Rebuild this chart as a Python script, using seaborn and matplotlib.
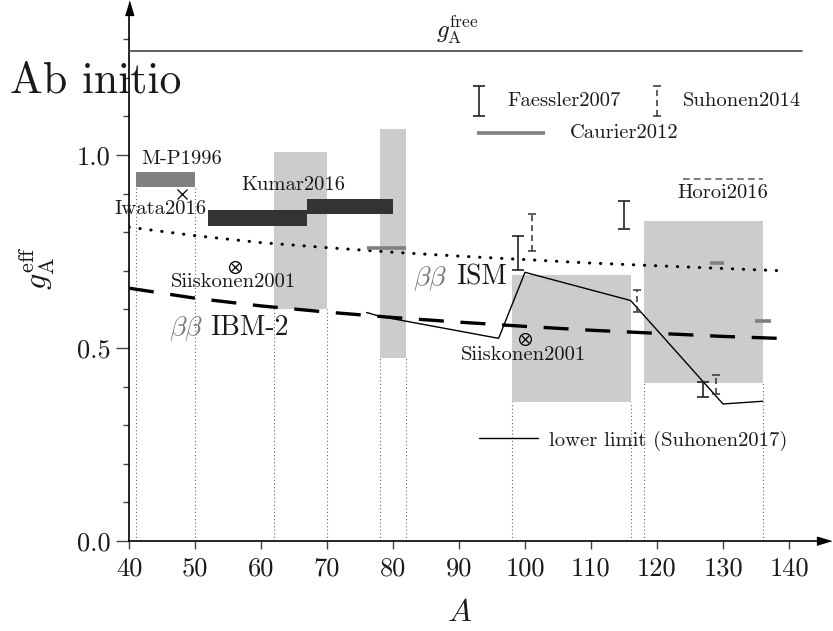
import numpy as np
import pandas as pd
import matplotlib
matplotlib.use("Agg")
import matplotlib.pyplot as plt
from matplotlib.ticker import MultipleLocator
import seaborn as sns

# ---------------- data ----------------
x_ticks = [40, 50, 60, 70, 80, 90, 100, 110, 120, 130, 140]
y_ticks = [0.0, 0.5, 1.0]
y_tick_labels = ["0.0", "0.5", "1.0"]

gA_free = 1.27
free_A = [40, 142]

ism_A = [40, 50, 60, 70, 80, 90, 100, 110, 120, 130, 139]
ism_g = [0.813, 0.791, 0.773, 0.760, 0.748, 0.738, 0.729, 0.720, 0.713, 0.706, 0.700]

ibm_A = [40, 50, 60, 70, 80, 90, 100, 110, 120, 130, 140]
ibm_g = [0.655, 0.629, 0.609, 0.593, 0.579, 0.567, 0.556, 0.546, 0.538, 0.530, 0.524]

lower_A = [76, 78, 96, 100, 116, 130, 136]
lower_g = [0.592, 0.582, 0.525, 0.696, 0.623, 0.355, 0.362]

box_A_lo = [62, 78, 98, 118]
box_A_hi = [70, 82, 116, 136]
box_g_lo = [0.600, 0.473, 0.361, 0.410]
box_g_hi = [1.007, 1.067, 0.689, 0.829]

mp_A_lo, mp_A_hi = [41], [50]
mp_g_lo, mp_g_hi = [0.918], [0.955]

kumar_A_lo = [52, 67]
kumar_A_hi = [67, 80]
kumar_g_lo = [0.817, 0.848]
kumar_g_hi = [0.857, 0.885]

caurier_A_lo = [76, 128, 134.8]
caurier_A_hi = [82, 130.1, 137.2]
caurier_g = [0.759, 0.720, 0.571]

faessler_A = [99, 115, 127]
faessler_lo = [0.701, 0.809, 0.372]
faessler_hi = [0.789, 0.880, 0.411]

suhonen_A = [101, 117, 129]
suhonen_lo = [0.750, 0.594, 0.381]
suhonen_hi = [0.848, 0.649, 0.430]

siiskonen_A = [56, 100]
siiskonen_g = [0.711, 0.523]

iwata_A = [48]
iwata_g = [0.898]

horoi_A = [124, 136]
horoi_g = [0.938, 0.938]

# ---------------- style ----------------
sns.set_theme(style="white")
plt.rcParams["font.family"] = ["cmr10", "DejaVu Serif"]
plt.rcParams["mathtext.fontset"] = "cm"
plt.rcParams["axes.unicode_minus"] = False
plt.rcParams["axes.formatter.use_mathtext"] = True

TXT = "#1a1a1a"
fig = plt.figure(figsize=(8.33, 6.31), dpi=100)
ax = fig.add_axes([129 / 833, (631 - 541) / 631, (824 - 129) / 833, (541 - 8.3) / 631])
ax.set_xlim(40, 145.3)
ax.set_ylim(0, 1.38)

# boxes (light gray)
for lo, hi, glo, ghi in zip(box_A_lo, box_A_hi, box_g_lo, box_g_hi):
    ax.bar(lo, ghi - glo, width=hi - lo, bottom=glo, align="edge",
           color="#cccccc", lw=0, zorder=1)
    ax.vlines([lo, hi], 0, glo, colors="#666666", linestyles=(0, (1, 2.2)), lw=0.8, zorder=1)

# M-P1996 bar
for lo, hi, glo, ghi in zip(mp_A_lo, mp_A_hi, mp_g_lo, mp_g_hi):
    ax.bar(lo, ghi - glo, width=hi - lo, bottom=glo, align="edge",
           color="#808080", lw=0, zorder=2)
    ax.vlines([lo, hi], 0, glo, colors="#666666", linestyles=(0, (1, 2.2)), lw=0.8, zorder=1)

# Kumar2016 bars
for lo, hi, glo, ghi in zip(kumar_A_lo, kumar_A_hi, kumar_g_lo, kumar_g_hi):
    ax.bar(lo, ghi - glo, width=hi - lo, bottom=glo, align="edge",
           color="#333333", lw=0, zorder=2)

# g_A free
sns.lineplot(x=free_A, y=[gA_free, gA_free], ax=ax, color="#555555", lw=1.3, zorder=3)

# ISM dotted curve
sns.lineplot(x=ism_A, y=ism_g, ax=ax, color="black", lw=2.2,
             linestyle=(0, (0.1, 3.5)), dash_capstyle="round", zorder=4)
# IBM-2 dashed curve
sns.lineplot(x=ibm_A, y=ibm_g, ax=ax, color="black", lw=2.4,
             linestyle=(0, (7.5, 5)), zorder=4)
# lower limit
sns.lineplot(x=lower_A, y=lower_g, ax=ax, color="black", lw=1.0, zorder=5)

# Caurier segments
for lo, hi, g in zip(caurier_A_lo, caurier_A_hi, caurier_g):
    ax.plot([lo, hi], [g, g], color="#808080", lw=2.6, solid_capstyle="butt", zorder=5)

# Faessler2007 error bars
fm = [(a + b) / 2 for a, b in zip(faessler_lo, faessler_hi)]
fe = [(b - a) / 2 for a, b in zip(faessler_lo, faessler_hi)]
ax.errorbar(faessler_A, fm, yerr=fe, fmt="none", ecolor="#222222", elinewidth=1.2,
            capsize=4, capthick=1.2, zorder=6)
# Suhonen2014 dashed error bars
sm = [(a + b) / 2 for a, b in zip(suhonen_lo, suhonen_hi)]
se = [(b - a) / 2 for a, b in zip(suhonen_lo, suhonen_hi)]
eb = ax.errorbar(suhonen_A, sm, yerr=se, fmt="none", ecolor="#333333", elinewidth=1.1,
                 capsize=3, capthick=1.1, zorder=6)
eb[2][0].set_linestyle((0, (4, 2.5)))

# Siiskonen markers (circle with cross)
ax.plot(siiskonen_A, siiskonen_g, ls="none", marker="o", ms=8.5, mfc="none",
        mec="black", mew=0.9, zorder=7)
ax.plot(siiskonen_A, siiskonen_g, ls="none", marker="x", ms=5.5,
        mec="black", mew=0.9, zorder=7)
# Iwata marker
ax.plot(iwata_A, iwata_g, ls="none", marker="x", ms=7, mec="black", mew=0.9, zorder=7)

# Horoi2016 dashed line
ax.plot(horoi_A, horoi_g, color="#666666", lw=1.2, ls=(0, (4, 2.5)), zorder=5)

# ---------------- legend-like keys ----------------
ax.errorbar([93], [1.141], yerr=[0.039], fmt="none", ecolor="#222222", elinewidth=1.2,
            capsize=4, capthick=1.2, zorder=6)
eb2 = ax.errorbar([120], [1.141], yerr=[0.039], fmt="none", ecolor="#333333",
                  elinewidth=1.1, capsize=3, capthick=1.1, zorder=6)
eb2[2][0].set_linestyle((0, (4, 2.5)))
ax.plot([92.7, 103.1], [1.058, 1.058], color="#808080", lw=2.6, solid_capstyle="butt")
ax.plot([93.0, 101.9], [0.266, 0.266], color="black", lw=1.0)

# ---------------- texts ----------------
fs = 14.8
ax.text(105.9, 1.141, "Faessler2007", fontsize=fs, color=TXT, ha="center", va="center")
ax.text(132.9, 1.141, "Suhonen2014", fontsize=fs, color=TXT, ha="center", va="center")
ax.text(115.0, 1.058, "Caurier2012", fontsize=fs, color=TXT, ha="center", va="center")
ax.text(130.0, 0.902, "Horoi2016", fontsize=fs, color=TXT, ha="center", va="center")
ax.text(103.6, 0.260, "lower limit (Suhonen2017)", fontsize=fs, color=TXT, ha="left", va="center")
ax.text(47.9, 0.990, "M-P1996", fontsize=fs, color=TXT, ha="center", va="center")
ax.text(64.9, 0.922, "Kumar2016", fontsize=fs, color=TXT, ha="center", va="center")
ax.text(44.8, 0.861, "Iwata2016", fontsize=fs, color=TXT, ha="center", va="center", clip_on=False)
ax.text(55.8, 0.672, "Siiskonen2001", fontsize=fs, color=TXT, ha="center", va="center")
ax.text(99.8, 0.483, "Siiskonen2001", fontsize=fs, color=TXT, ha="center", va="center")

ax.text(83.0, 0.664, r"$\beta\beta$", fontsize=20, color="#777777", ha="left", va="baseline")
ax.text(89.6, 0.664, "ISM", fontsize=20, color=TXT, ha="left", va="baseline")
ax.text(46.0, 0.534, r"$\beta\beta$", fontsize=20, color="#777777", ha="left", va="baseline")
ax.text(52.3, 0.534, "IBM-2", fontsize=20, color=TXT, ha="left", va="baseline")

ax.text(21.9, 1.163, "Ab initio", fontsize=31.5, color=TXT, ha="left", va="baseline", clip_on=False)
ax.text(89.8, 1.324, r"$g_{\mathrm{A}}^{\mathrm{free}}$", fontsize=18, color=TXT,
        ha="center", va="center")

# ---------------- axes ----------------
for s in ["top", "right"]:
    ax.spines[s].set_visible(False)
for s in ["left", "bottom"]:
    ax.spines[s].set_color("black")
    ax.spines[s].set_linewidth(1.2)

ax.set_xticks(x_ticks)
ax.set_xticklabels([str(v) for v in x_ticks])
ax.set_yticks(y_ticks)
ax.set_yticklabels(y_tick_labels)
ax.yaxis.set_minor_locator(MultipleLocator(0.1))
ax.tick_params(axis="x", which="major", direction="out", length=6, width=1.0,
               color="#444444", labelsize=19, labelcolor=TXT, pad=5, bottom=True)
ax.tick_params(axis="y", which="major", direction="out", length=9.5, width=1.0,
               color="#444444", labelsize=19, labelcolor=TXT, pad=4, left=True)
ax.tick_params(axis="y", which="minor", direction="out", length=4.5, width=1.0,
               color="#444444", left=True)

ax.set_xlabel(r"$A$", fontsize=23, color=TXT)
ax.xaxis.set_label_coords((460 - 129) / 695, (541 - 600) / 532.7)
ax.xaxis.label.set_va("top")
ax.set_ylabel(r"$g_{\mathrm{A}}^{\mathrm{eff}}$", fontsize=23, color=TXT)
ax.yaxis.set_label_coords((37.5 - 129) / 695, (541 - 268) / 532.7)
ax.yaxis.label.set_va("center")

# axis arrows
ax.plot([0], [1], marker=[(-3, -5), (3, -5), (0, 5)], ms=10, color="black",
        transform=ax.transAxes, clip_on=False, zorder=10)
ax.plot([1], [0], marker=[(-5, -3), (-5, 3), (5, 0)], ms=10, color="black",
        transform=ax.transAxes, clip_on=False, zorder=10)

fig.savefig("out.png", dpi=100)
